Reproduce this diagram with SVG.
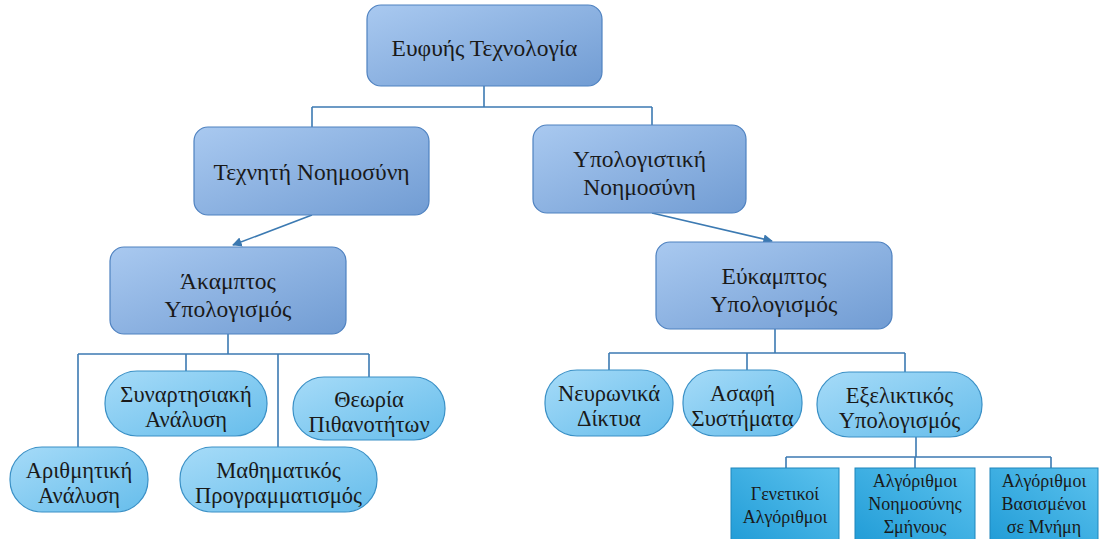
<svg xmlns="http://www.w3.org/2000/svg" width="1107" height="539" viewBox="0 0 1107 539">
<defs>
<linearGradient id="gBig" x1="0" y1="0" x2="1" y2="1">
<stop offset="0" stop-color="#A9C9F0"/>
<stop offset="1" stop-color="#719CD3"/>
</linearGradient>
<linearGradient id="gPill" x1="0" y1="0" x2="1" y2="1">
<stop offset="0" stop-color="#A6DBF8"/>
<stop offset="1" stop-color="#66BDEB"/>
</linearGradient>
<linearGradient id="gSq" x1="0" y1="1" x2="1" y2="0">
<stop offset="0" stop-color="#1F9BD6"/>
<stop offset="1" stop-color="#5CC2EE"/>
</linearGradient>
<marker id="arr" viewBox="0 0 10 10" refX="9" refY="5" markerWidth="6" markerHeight="6" orient="auto-start-reverse">
<path d="M0,0 L10,5 L0,10 z" fill="#3B78B0"/>
</marker>
</defs>
<style>
.big{fill:url(#gBig);stroke:#4F82C0;stroke-width:1.2}
.pill{fill:url(#gPill);stroke:#3A90C6;stroke-width:1.2}
.sq{fill:url(#gSq);stroke:#1F86BC;stroke-width:1}
.c{fill:none;stroke:#3C7AB2;stroke-width:1.6}
</style>
<g id="connectors">
<path class="c" d="M484,86 V107 M312,107 H652 M312,107 V127 M652,107 V125"/>
<path class="c" d="M312,215 L233,245" marker-end="url(#arr)"/>
<path class="c" d="M652,213 L772,241" marker-end="url(#arr)"/>
<path class="c" d="M228,334 V354 M78,354 H369 M78,354 V447 M186,354 V371 M278,354 V447 M369,354 V377"/>
<path class="c" d="M775,329 V353 M609,353 H905 M609,353 V370 M747,353 V370 M905,353 V372"/>
<path class="c" d="M916,437 V457 M786,457 H1051 M786,457 V468 M915,457 V468 M1051,457 V468"/>
</g>
<g id="n-euf"><rect class="big" x="367" y="5" width="235" height="81" rx="14"/><text font-family="Liberation Serif, serif" font-size="23.5" fill="#1a1a1a" text-anchor="middle" x="484.5" y="56">Ευφυής Τεχνολογία</text></g>
<g id="n-tex"><rect class="big" x="194" y="127" width="235" height="88" rx="14"/><text font-family="Liberation Serif, serif" font-size="23.5" fill="#1a1a1a" text-anchor="middle" x="311.5" y="180">Τεχνητή Νοημοσύνη</text></g>
<g id="n-ypo"><rect class="big" x="533" y="125" width="213" height="88" rx="14"/><text font-family="Liberation Serif, serif" font-size="23.5" fill="#1a1a1a" text-anchor="middle" x="639.5" y="167">Υπολογιστική</text><text font-family="Liberation Serif, serif" font-size="23.5" fill="#1a1a1a" text-anchor="middle" x="639.5" y="195">Νοημοσύνη</text></g>
<g id="n-aka"><rect class="big" x="110" y="247" width="236" height="87" rx="14"/><text font-family="Liberation Serif, serif" font-size="23.5" fill="#1a1a1a" text-anchor="middle" x="228" y="289">Άκαμπτος</text><text font-family="Liberation Serif, serif" font-size="23.5" fill="#1a1a1a" text-anchor="middle" x="228" y="317">Υπολογισμός</text></g>
<g id="n-euk"><rect class="big" x="656" y="242" width="236" height="87" rx="14"/><text font-family="Liberation Serif, serif" font-size="23.5" fill="#1a1a1a" text-anchor="middle" x="774" y="284">Εύκαμπτος</text><text font-family="Liberation Serif, serif" font-size="23.5" fill="#1a1a1a" text-anchor="middle" x="774" y="312">Υπολογισμός</text></g>
<g id="n-syn"><rect class="pill" x="105" y="371" width="162" height="65" rx="32"/><text font-family="Liberation Serif, serif" font-size="22.5" fill="#1a1a1a" text-anchor="middle" x="186" y="402">Συναρτησιακή</text><text font-family="Liberation Serif, serif" font-size="22.5" fill="#1a1a1a" text-anchor="middle" x="186" y="427">Ανάλυση</text></g>
<g id="n-the"><rect class="pill" x="293" y="377" width="152" height="63" rx="31"/><text font-family="Liberation Serif, serif" font-size="22.5" fill="#1a1a1a" text-anchor="middle" x="369" y="407">Θεωρία</text><text font-family="Liberation Serif, serif" font-size="22.5" fill="#1a1a1a" text-anchor="middle" x="369" y="432">Πιθανοτήτων</text></g>
<g id="n-ari"><rect class="pill" x="10" y="447" width="138" height="65" rx="32"/><text font-family="Liberation Serif, serif" font-size="22.5" fill="#1a1a1a" text-anchor="middle" x="79" y="478">Αριθμητική</text><text font-family="Liberation Serif, serif" font-size="22.5" fill="#1a1a1a" text-anchor="middle" x="79" y="503">Ανάλυση</text></g>
<g id="n-mat"><rect class="pill" x="180" y="447" width="197" height="65" rx="32"/><text font-family="Liberation Serif, serif" font-size="22.5" fill="#1a1a1a" text-anchor="middle" x="278.5" y="478">Μαθηματικός</text><text font-family="Liberation Serif, serif" font-size="22.5" fill="#1a1a1a" text-anchor="middle" x="278.5" y="503">Προγραμματισμός</text></g>
<g id="n-neu"><rect class="pill" x="545" y="370" width="128" height="66" rx="32"/><text font-family="Liberation Serif, serif" font-size="22.5" fill="#1a1a1a" text-anchor="middle" x="609" y="401">Νευρωνικά</text><text font-family="Liberation Serif, serif" font-size="22.5" fill="#1a1a1a" text-anchor="middle" x="609" y="426">Δίκτυα</text></g>
<g id="n-asa"><rect class="pill" x="683" y="370" width="119" height="66" rx="32"/><text font-family="Liberation Serif, serif" font-size="22.5" fill="#1a1a1a" text-anchor="middle" x="742.5" y="401">Ασαφή</text><text font-family="Liberation Serif, serif" font-size="22.5" fill="#1a1a1a" text-anchor="middle" x="742.5" y="426">Συστήματα</text></g>
<g id="n-exe"><rect class="pill" x="817" y="372" width="165" height="65" rx="32"/><text font-family="Liberation Serif, serif" font-size="22.5" fill="#1a1a1a" text-anchor="middle" x="899.5" y="403">Εξελικτικός</text><text font-family="Liberation Serif, serif" font-size="22.5" fill="#1a1a1a" text-anchor="middle" x="899.5" y="428">Υπολογισμός</text></g>
<g id="n-gen"><rect class="sq" x="731" y="468" width="108" height="80"/><text font-family="Liberation Serif, serif" font-size="18" fill="#1a1a1a" text-anchor="middle" x="785" y="500">Γενετικοί</text><text font-family="Liberation Serif, serif" font-size="18" fill="#1a1a1a" text-anchor="middle" x="785" y="523">Αλγόριθμοι</text></g>
<g id="n-swa"><rect class="sq" x="855" y="468" width="120" height="80"/><text font-family="Liberation Serif, serif" font-size="18" fill="#1a1a1a" text-anchor="middle" x="915" y="487">Αλγόριθμοι</text><text font-family="Liberation Serif, serif" font-size="18" fill="#1a1a1a" text-anchor="middle" x="915" y="510">Νοημοσύνης</text><text font-family="Liberation Serif, serif" font-size="18" fill="#1a1a1a" text-anchor="middle" x="915" y="533">Σμήνους</text></g>
<g id="n-mem"><rect class="sq" x="990" y="468" width="108" height="80"/><text font-family="Liberation Serif, serif" font-size="18" fill="#1a1a1a" text-anchor="middle" x="1044" y="487">Αλγόριθμοι</text><text font-family="Liberation Serif, serif" font-size="18" fill="#1a1a1a" text-anchor="middle" x="1044" y="510">Βασισμένοι</text><text font-family="Liberation Serif, serif" font-size="18" fill="#1a1a1a" text-anchor="middle" x="1044" y="533">σε Μνήμη</text></g>
</svg>
